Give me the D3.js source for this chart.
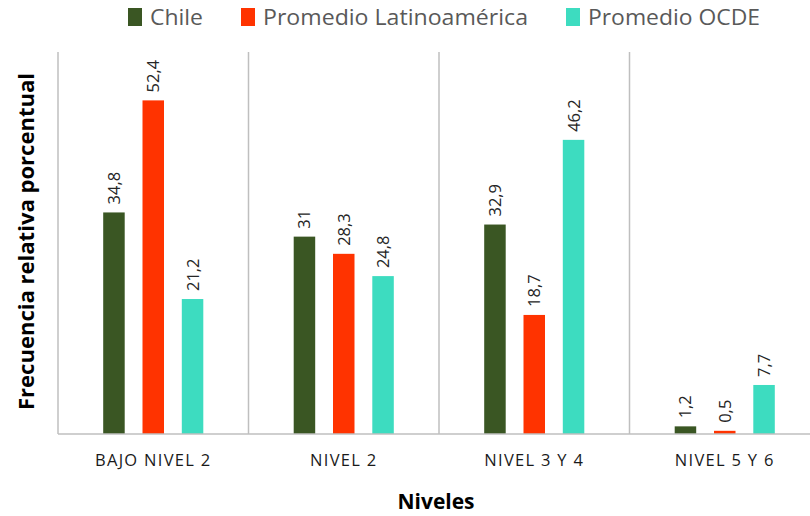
<!DOCTYPE html>
<html>
<head>
<meta charset="utf-8">
<script src="https://cdn.jsdelivr.net/npm/d3@7"></script>
<style>
  html, body { margin: 0; padding: 0; background: #fff; }
  svg { display: block; }
</style>
</head>
<body>
<svg id="chart" width="810" height="516"></svg>
<script>
// Niveles de desempeño y frecuencia relativa por grupo
const categories = ["BAJO NIVEL 2", "NIVEL 2", "NIVEL 3 Y 4", "NIVEL 5 Y 6"];
const seriesNames = ["Chile", "Promedio Latinoamérica", "Promedio OCDE"];
const chile = [34.8, 31, 32.9, 1.2];
const latam = [52.4, 28.3, 18.7, 0.5];
const ocde = [21.2, 24.8, 46.2, 7.7];
const valueLabels = [
  ["34,8", "31", "32,9", "1,2"],
  ["52,4", "28,3", "18,7", "0,5"],
  ["21,2", "24,8", "46,2", "7,7"]
];
const colors = ["#3A5623", "#FF3300", "#3DDCC0"];

const series = [chile, latam, ocde];
const FONT = "'Open Sans', 'DejaVu Sans', sans-serif";

const svg = d3.select("#chart");
const plot = { left: 58, right: 820, top: 52, bottom: 434 };

const x = d3.scaleBand().domain(categories).range([plot.left, plot.right]).padding(0);
const y = d3.scaleLinear().domain([0, 60]).range([plot.bottom, plot.top]);

// bar positions inside each category: three bars centred on the band
const barW = 21.5, barStep = 39.3;
const offset = d3.scalePoint().domain(seriesNames).range([-barStep, barStep]);
const barCenter = (ci, si) => x(categories[ci]) + x.bandwidth() / 2 + offset(seriesNames[si]);

// vertical separators between categories
svg.append("g").selectAll("line").data(categories).join("line")
  .attr("x1", d => x(d)).attr("x2", d => x(d))
  .attr("y1", plot.top).attr("y2", plot.bottom)
  .attr("stroke", "#BFBFBF").attr("stroke-width", 1.5);

// bars and value labels
const groups = svg.append("g").selectAll("g").data(series).join("g")
  .attr("fill", (d, i) => colors[i]);

groups.each(function (vals, si) {
  const g = d3.select(this);
  const data = vals.map((v, ci) => ({ v, ci, si }));
  g.selectAll("rect").data(data).join("rect")
    .attr("x", d => barCenter(d.ci, si) - barW / 2)
    .attr("y", d => y(d.v))
    .attr("width", barW)
    .attr("height", d => y(0) - y(d.v));
  g.selectAll("text").data(data).join("text")
    .attr("transform", d => `translate(${barCenter(d.ci, si) + 6},${y(d.v) - 8}) rotate(-90)`)
    .attr("fill", "#262626")
    .attr("font-family", FONT)
    .attr("font-size", 16.5)
    .text(d => valueLabels[si][d.ci]);
});

// baseline and category axis
const xAxis = svg.append("g").attr("transform", `translate(0,${plot.bottom})`)
  .call(d3.axisBottom(x).tickSize(0).tickPadding(20));
xAxis.select(".domain").attr("stroke", "#BFBFBF").attr("stroke-width", 1.5)
  .attr("d", `M${plot.left},0H${plot.right}`);
xAxis.selectAll("text")
  .attr("font-family", FONT)
  .attr("font-size", 16.5)
  .attr("letter-spacing", "1.3px")
  .attr("fill", "#1a1a1a");

// axis titles
svg.append("text")
  .attr("x", 436).attr("y", 509)
  .attr("text-anchor", "middle")
  .attr("font-family", FONT)
  .attr("font-weight", "bold").attr("font-size", 21)
  .attr("fill", "#000")
  .attr("textLength", 77).attr("lengthAdjust", "spacingAndGlyphs")
  .text("Niveles");

svg.append("text")
  .attr("transform", "translate(34,241.5) rotate(-90)")
  .attr("text-anchor", "middle")
  .attr("font-family", FONT)
  .attr("font-weight", "bold").attr("font-size", 22)
  .attr("fill", "#000")
  .attr("textLength", 337).attr("lengthAdjust", "spacingAndGlyphs")
  .text("Frecuencia relativa porcentual");

// legend
const legendX = [128, 241, 566];
const legendW = [53, 265, 172];
const legend = svg.append("g").selectAll("g").data(seriesNames).join("g")
  .attr("transform", (d, i) => `translate(${legendX[i]},0)`);
legend.append("rect")
  .attr("x", 0).attr("y", 8).attr("width", 14).attr("height", 18)
  .attr("fill", (d, i) => colors[i]);
legend.append("text")
  .attr("x", 22).attr("y", 25)
  .attr("font-family", FONT)
  .attr("font-size", 21)
  .attr("fill", "#595959")
  .attr("textLength", (d, i) => legendW[i])
  .attr("lengthAdjust", "spacingAndGlyphs")
  .text(d => d);
</script>
</body>
</html>
